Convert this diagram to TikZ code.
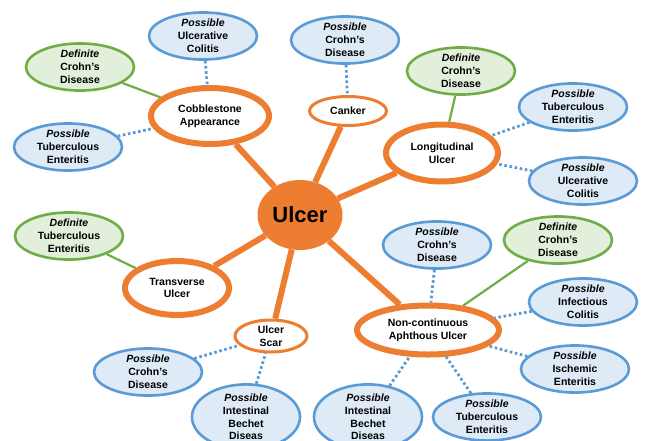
\documentclass[tikz,border=0pt]{standalone}
\usepackage{fontspec}
\setmainfont{Liberation Sans}
\usetikzlibrary{shapes.geometric}
\definecolor{ora}{RGB}{237,125,49}
\definecolor{blu}{RGB}{91,155,213}
\definecolor{blufill}{RGB}{222,235,247}
\definecolor{grn}{RGB}{112,173,71}
\definecolor{grnfill}{RGB}{226,239,218}
\tikzset{
  base/.style={ellipse, inner sep=0pt, align=center, font=\fontsize{10.5}{12.8}\selectfont\bfseries},
  poss/.style={base, draw=blu, fill=blufill, line width=2.6pt, minimum width=108pt, minimum height=45pt},
  defn/.style={base, draw=grn, fill=grnfill, line width=2.6pt, minimum width=108pt, minimum height=45pt},
  major/.style={base, draw=ora, fill=white, line width=6pt},
  minor/.style={base, draw=ora, fill=white, line width=3pt},
  trunk/.style={draw=ora, line width=6pt},
  solidlink/.style={draw=grn, line width=2.2pt},
  dotlink/.style={draw=blu, line width=2.8pt, dash pattern=on 2.6pt off 2.6pt},
}
\begin{document}
\begin{tikzpicture}[x=1pt,y=-1pt]
\useasboundingbox (0,0) rectangle (646,440);
\clip (0,0) rectangle (646,440);
\fill[white] (0,0) rectangle (646,440);
% hub
\node[base, fill=ora, minimum width=85pt, minimum height=70pt, font=\fontsize{22}{24}\selectfont\bfseries] (ulcer) at (300,215) {Ulcer};
% major/minor nodes
\node[major, minimum width=118pt, minimum height=56pt] (cob) at (210,116) {Cobblestone\\Appearance};
\node[minor, minimum width=77pt, minimum height=29pt] (cank) at (348,111) {Canker};
\node[major, minimum width=112pt, minimum height=57pt] (long) at (442,153) {Longitudinal\\Ulcer};
\node[major, minimum width=104pt, minimum height=54pt] (trans) at (177,288) {Transverse\\Ulcer};
\node[minor, minimum width=72pt, minimum height=32pt] (scar) at (271,336) {Ulcer\\Scar};
\node[major, minimum width=142pt, minimum height=49pt] (nonc) at (428,330) {Non-continuous\\Aphthous Ulcer};
% leaves
\node[poss] (p1) at (203,36) {\textit{Possible}\\Ulcerative\\Colitis};
\node[defn] (d1) at (80,67) {\textit{Definite}\\Crohn's\\Disease};
\node[poss] (p2) at (68,147) {\textit{Possible}\\Tuberculous\\Enteritis};
\node[poss] (p3) at (345,40) {\textit{Possible}\\Crohn's\\Disease};
\node[defn] (d2) at (461,71) {\textit{Definite}\\Crohn's\\Disease};
\node[poss] (p4) at (573,107) {\textit{Possible}\\Tuberculous\\Enteritis};
\node[poss] (p5) at (583,181) {\textit{Possible}\\Ulcerative\\Colitis};
\node[defn] (d3) at (69,236) {\textit{Definite}\\Tuberculous\\Enteritis};
\node[poss] (p6) at (148,372) {\textit{Possible}\\Crohn's\\Disease};
\node[poss, minimum height=56pt] (p7) at (246,417) {\textit{Possible}\\Intestinal\\Bechet\\Diseas};
\node[poss] (p8) at (437,245) {\textit{Possible}\\Crohn's\\Disease};
\node[defn] (d4) at (558,240) {\textit{Definite}\\Crohn's\\Disease};
\node[poss] (p9) at (583,302) {\textit{Possible}\\Infectious\\Colitis};
\node[poss] (p10) at (575,369) {\textit{Possible}\\Ischemic\\Enteritis};
\node[poss] (p11) at (487,417) {\textit{Possible}\\Tuberculous\\Enteritis};
\node[poss, minimum height=56pt] (p12) at (368,417) {\textit{Possible}\\Intestinal\\Bechet\\Diseas};
% connectors
\draw[trunk] (ulcer) -- (cob);
\draw[trunk] (ulcer) -- (cank);
\draw[trunk] (ulcer) -- (long);
\draw[trunk] (ulcer) -- (trans);
\draw[trunk] (ulcer) -- (scar);
\draw[trunk] (ulcer) -- (nonc);
\draw[solidlink] (d1) -- (cob);
\draw[solidlink] (d2) -- (long);
\draw[solidlink] (d3) -- (trans);
\draw[solidlink] (d4) -- (nonc);
\draw[dotlink] (p1) -- (cob);
\draw[dotlink] (p2) -- (cob);
\draw[dotlink] (p3) -- (cank);
\draw[dotlink] (p4) -- (long);
\draw[dotlink] (p5) -- (long);
\draw[dotlink] (p6) -- (scar);
\draw[dotlink] (p7) -- (scar);
\draw[dotlink] (p8) -- (nonc);
\draw[dotlink] (p9) -- (nonc);
\draw[dotlink] (p10) -- (nonc);
\draw[dotlink] (p11) -- (nonc);
\draw[dotlink] (p12) -- (nonc);
\end{tikzpicture}
\end{document}
